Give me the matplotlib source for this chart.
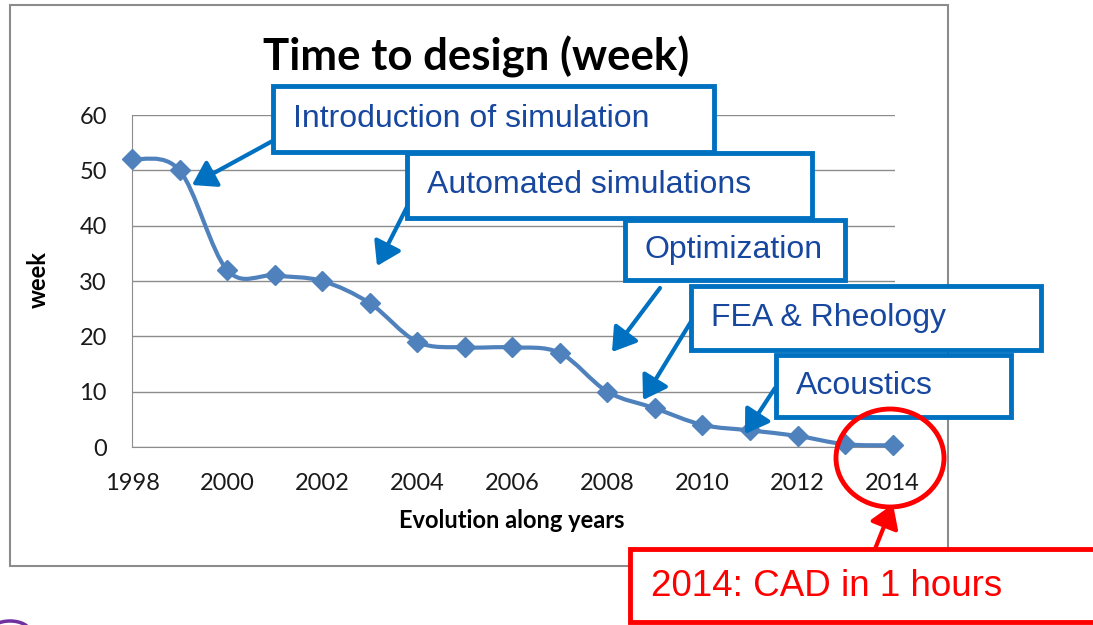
import matplotlib
matplotlib.use("Agg")
import matplotlib.pyplot as plt
from matplotlib.patches import Rectangle, FancyArrowPatch, Ellipse, PathPatch
from matplotlib.path import Path
import numpy as np

years = [1998, 1999, 2000, 2001, 2002, 2003, 2004, 2005, 2006, 2007,
         2008, 2009, 2010, 2011, 2012, 2013, 2014]
weeks = [52, 50, 32, 31, 30, 26, 19, 18, 18, 17, 10, 7, 4, 3, 2, 0.5, 0.3]
y_ticks = [0, 10, 20, 30, 40, 50, 60]
x_ticks = [1998, 2000, 2002, 2004, 2006, 2008, 2010, 2012, 2014]
title = "Time to design (week)"
xlabel = "Evolution along years"
ylabel = "week"
notes = ["Introduction of simulation", "Automated simulations", "Optimization",
         "FEA & Rheology", "Acoustics"]
red_note = "2014: CAD in 1 hours"

W, H = 1093, 625
fig = plt.figure(figsize=(W / 100, H / 100), dpi=100)
fig.patch.set_facecolor("white")

def P(x, y):
    return (x / W, 1 - y / H)

# outer chart frame
fig.patches.append(Rectangle(P(10, 566), 938 / W, 561 / H, transform=fig.transFigure,
                             fill=False, edgecolor="#8c8c8c", lw=1.5, zorder=0))

ax = fig.add_axes([132 / W, 1 - 447 / H, (895 - 132) / W, (447 - 115) / H])
ax.set_xlim(1998, 2014.05)
ax.set_ylim(0, 60)
ax.set_yticks(y_ticks)
ax.set_xticks(x_ticks)
ax.grid(axis="y", color="#8c8c8c", lw=1)
ax.set_axisbelow(True)
for s in ["top", "right"]:
    ax.spines[s].set_visible(False)
for s in ["left", "bottom"]:
    ax.spines[s].set_color("#8c8c8c")
ax.tick_params(length=0, labelsize=17, colors="#1a1a1a")
ax.tick_params(axis="x", pad=19)
ax.tick_params(axis="y", pad=18)
for lab in ax.get_xticklabels() + ax.get_yticklabels():
    lab.set_fontfamily("Lato")
ax.patch.set_alpha(0)

# smooth line (Catmull-Rom as cubic Bezier)
xs = np.array(years, float)
ys = np.array(weeks, float)
n = len(xs)
verts = [(xs[0], ys[0])]
codes = [Path.MOVETO]
for i in range(n - 1):
    p0 = np.array([xs[max(i - 1, 0)], ys[max(i - 1, 0)]])
    p1 = np.array([xs[i], ys[i]])
    p2 = np.array([xs[i + 1], ys[i + 1]])
    p3 = np.array([xs[min(i + 2, n - 1)], ys[min(i + 2, n - 1)]])
    c1 = p1 + (p2 - p0) / 6
    c2 = p2 - (p3 - p1) / 6
    verts += [tuple(c1), tuple(c2), tuple(p2)]
    codes += [Path.CURVE4] * 3
ax.add_patch(PathPatch(Path(verts, codes), fill=False, edgecolor="#4F81BD", lw=3, zorder=3,
                       clip_on=False))
ax.plot(years, weeks, ls="none", marker="D", ms=10, color="#4F81BD", zorder=4, clip_on=False)

fig.text(*P(476, 57), title, ha="center", va="center", fontsize=31.5, fontweight="bold",
         family="Lato", color="black")
fig.text(*P(512, 521), xlabel, ha="center", va="center", fontsize=17, fontweight="bold",
         family="Lato", color="black")
fig.text(*P(38, 280), ylabel, ha="center", va="center", fontsize=17, fontweight="bold",
         family="Lato", color="black", rotation=90)

blue = "#0070C0"
txtblue = "#17479E"
boxes = [(273, 86, 714, 152), (407, 153, 812, 218), (625, 220, 845, 280),
         (691, 286, 1041, 350), (776, 355, 1011, 417)]
arrows = [((278, 138), (192, 185)), ((408, 205), (377, 266)), ((660, 288), (612, 352)),
          ((692, 320), (643, 400)), ((775, 388), (745, 434))]

for (x0, y0), (x1, y1) in arrows:
    fig.patches.append(FancyArrowPatch(P(x0, y0), P(x1, y1), transform=fig.transFigure,
                                       arrowstyle="-|>,head_length=0.7,head_width=0.45",
                                       mutation_scale=20, color=blue, lw=3, zorder=5,
                                       shrinkA=0, shrinkB=0))

for (x0, y0, x1, y1), t in zip(boxes, notes):
    fig.patches.append(Rectangle(P(x0, y1), (x1 - x0) / W, (y1 - y0) / H,
                                 transform=fig.transFigure, facecolor="white",
                                 edgecolor=blue, lw=3.5, zorder=6))
    fig.text(*P(x0 + 20, (y0 + y1) / 2), t, ha="left", va="center", fontsize=23,
             family="Liberation Sans", color=txtblue, zorder=7)

red = "#FF0000"
fig.patches.append(Ellipse(P(890, 458), 108 / W, 98 / H, transform=fig.transFigure,
                           fill=False, edgecolor=red, lw=3.5, zorder=8))
fig.patches.append(FancyArrowPatch(P(875, 549), P(893, 504), transform=fig.transFigure,
                                   arrowstyle="-|>,head_length=0.7,head_width=0.45",
                                   mutation_scale=20, color=red, lw=3, zorder=8,
                                   shrinkA=0, shrinkB=0))
fig.patches.append(Rectangle(P(630, 622), 480 / W, 73 / H, transform=fig.transFigure,
                             facecolor="white", edgecolor=red, lw=3.5, zorder=9))
fig.text(*P(651, 586), red_note, ha="left", va="center", fontsize=26.5,
         family="Liberation Sans", color=red, zorder=10)

fig.patches.append(Ellipse(P(10, 632), 40 / W, 22 / H, transform=fig.transFigure,
                           fill=False, edgecolor="#7030A0", lw=2.5, zorder=1))

fig.savefig("out.png", dpi=100)
